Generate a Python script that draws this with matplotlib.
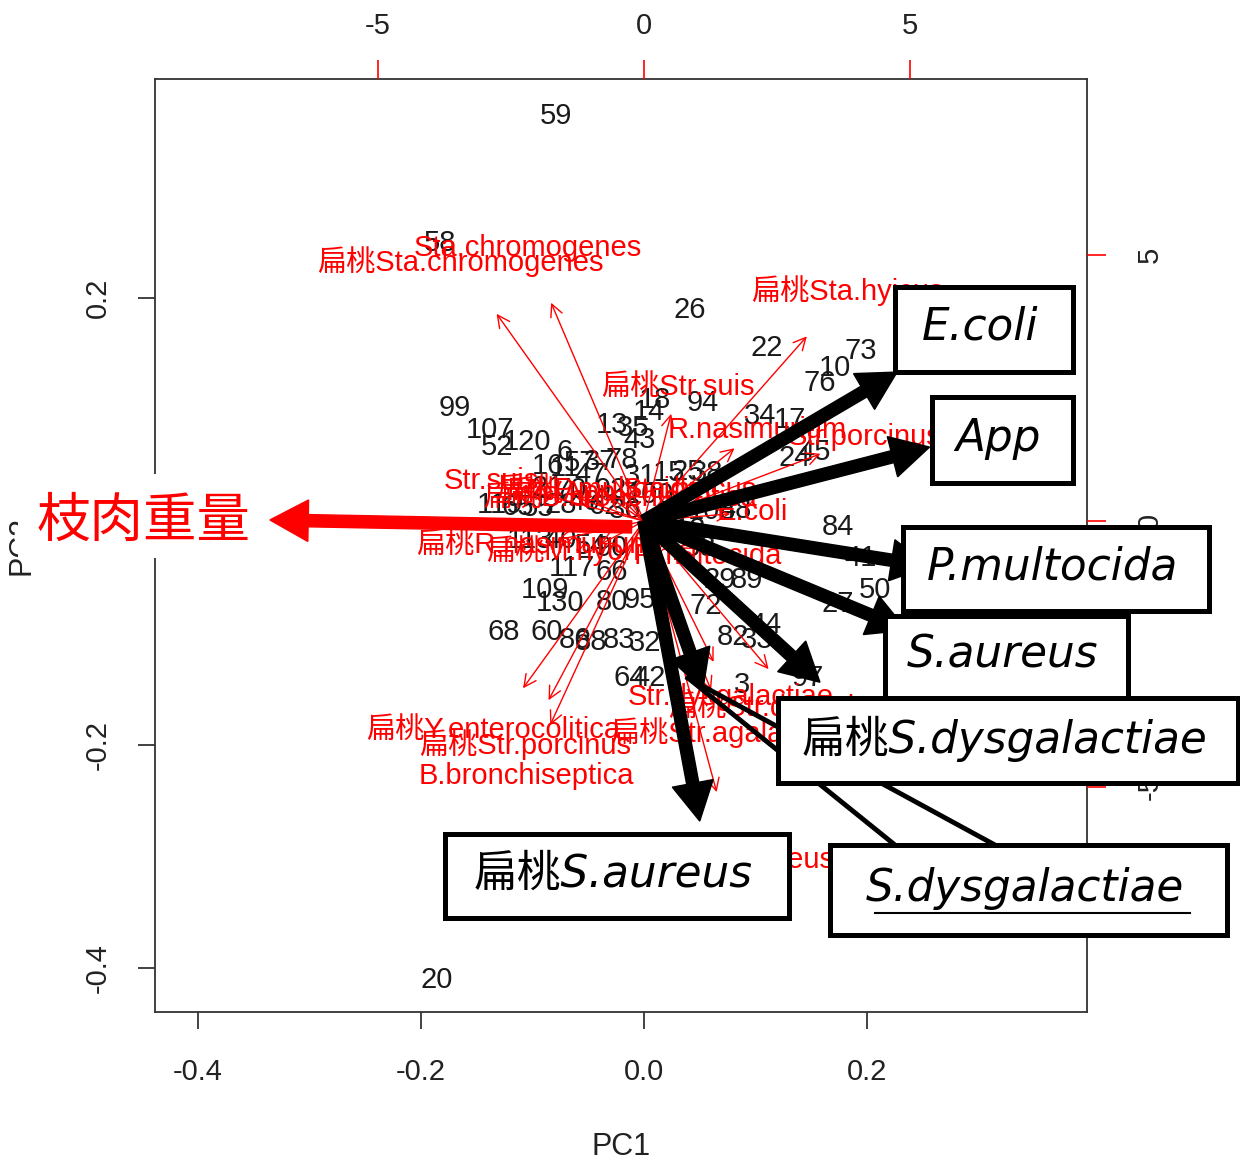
import matplotlib
matplotlib.use('Agg')
import matplotlib.pyplot as plt
from matplotlib.patches import Rectangle
from matplotlib.lines import Line2D

plt.rcParams['font.family'] = ['Liberation Sans', 'Noto Sans CJK JP']
plt.rcParams['axes.unicode_minus'] = False

# sample scores (PC1, PC2) -> bottom / left axes
pt_labels = ['59', '58', '26', '22', '73', '10', '76', '99', '94', '34', '17',
             '18', '14', '13', '35', '43', '107', '52', '120', '6',
             '16', '11', '57', '37', '78', '47', '31', '15', '25', '38',
             '21', '70', '92', '100', '119', '65', '55', '28', '49', '62', '36',
             '113', '40', '54', '90', '108', '48', '12', '53', '117', '66',
             '24', '45', '84', '41', '50', '27', '72', '29', '89', '82', '33',
             '44', '3', '97', '64', '42', '68', '60', '109', '130', '80', '95',
             '86', '88', '83', '32', '20']
pt_x = [-0.079, -0.183, 0.041, 0.110, 0.194, 0.171, 0.158, -0.170, 0.053, 0.104, 0.131,
        0.010, 0.004, -0.029, -0.010, -0.004, -0.138, -0.132, -0.105, -0.071,
        -0.086, -0.071, -0.057, -0.039, -0.020, -0.048, -0.004, 0.022, 0.039, 0.057,
        -0.086, -0.066, -0.030, 0.005, -0.129, -0.113, -0.095, -0.075, -0.053, -0.035, -0.017,
        -0.102, -0.075, -0.048, -0.029, 0.061, 0.082, 0.041, 0.050, -0.065, -0.029,
        0.135, 0.153, 0.174, 0.194, 0.207, 0.174, 0.055, 0.068, 0.092, 0.080, 0.101,
        0.109, 0.088, 0.147, -0.013, 0.005, -0.126, -0.087, -0.089, -0.075, -0.029, -0.004,
        -0.062, -0.048, -0.022, 0.001, -0.186]
pt_y = [0.363, 0.249, 0.189, 0.155, 0.153, 0.137, 0.124, 0.102, 0.106, 0.094, 0.091,
        0.109, 0.098, 0.086, 0.084, 0.073, 0.082, 0.067, 0.071, 0.062,
        0.050, 0.048, 0.052, 0.053, 0.055, 0.042, 0.041, 0.043, 0.044, 0.043,
        0.030, 0.028, 0.028, 0.024, 0.015, 0.013, 0.012, 0.015, 0.017, 0.014, 0.010,
        -0.017, -0.017, -0.022, -0.024, 0.009, 0.010, -0.008, -0.024, -0.042, -0.045,
        0.057, 0.062, -0.005, -0.033, -0.061, -0.074, -0.076, -0.052, -0.052, -0.103, -0.106,
        -0.093, -0.146, -0.140, -0.140, -0.140, -0.099, -0.099, -0.061, -0.073, -0.072, -0.070,
        -0.106, -0.108, -0.106, -0.109, -0.410]

# variable loadings -> top / right axes
var_labels = ['扁桃Sta.chromogenes', 'Sta.chromogenes', '扁桃Sta.hyicus', '扁桃Str.suis',
              'R.nasimurium', 'Str.porcinus', 'E.coli', 'P.multocida', 'Str.suis',
              'Str.dysgalactiae', '扁桃Str.dysgalactiae', '扁桃Str.agalactiae',
              '扁桃Y.enterocolitica', '扁桃Str.porcinus', 'B.bronchiseptica', '扁桃Sta.aureus',
              '扁桃App', '扁桃P.multocida', '扁桃B.bronchiseptica', '扁桃R.nasimurium',
              '扁桃M.hyorhinis', 'Sta.hyicus']
var_x = [-3.46, -2.18, 3.83, 0.64, 2.13, 4.15, 2.03, 1.20, -2.86, 1.64, 2.93, 1.58,
         -2.84, -2.24, -2.20, 1.71, -1.58, -0.83, -0.45, -2.05, -1.02, 0.87]
var_y = [4.87, 5.13, 4.34, 2.52, 1.71, 1.58, 0.17, -0.66, 0.75, -3.31, -3.48, -3.98,
         -3.93, -4.21, -4.79, -6.37, 0.55, 0.58, 0.45, -0.45, -0.55, 0.58]

# highlighted variables (thick black arrows)
hl_labels = ['E.coli', 'App', 'P.multocida', 'S.aureus', '扁桃S.dysgalactiae',
             'S.dysgalactiae', '扁桃S.aureus']
hl_x = [4.76, 5.37, 5.37, 4.94, 3.31, 1.11, 1.05]
hl_y = [2.80, 1.39, -0.85, -2.05, -3.03, -3.16, -5.64]
carcass_label = '枝肉重量'
carcass_x = -7.03
carcass_y = 0.02

W, H = 1240, 1159
fig = plt.figure(figsize=(W / 100, H / 100), dpi=100)

def fx(px):
    return px / W

def fy(py):
    return 1 - py / H

rect = [fx(155), fy(1012), (1087 - 155) / W, (1012 - 79) / H]
ax = fig.add_axes(rect)
ax.set_xlim(-0.4386, 0.3973)
ax.set_ylim(-0.439, 0.396)
for s in ax.spines.values():
    s.set_linewidth(1.3)
    s.set_color('#333333')
ax.set_xticks([-0.4, -0.2, 0.0, 0.2])
ax.set_xticklabels(['-0.4', '-0.2', '0.0', '0.2'])
ax.set_yticks([-0.4, -0.2, 0.0, 0.2])
ax.set_yticklabels(['-0.4', '-0.2', '0.0', '0.2'], rotation=90, va='center')
ax.tick_params(axis='x', length=12, width=1.2, pad=21, labelsize=21, colors='#222222')
ax.tick_params(axis='y', length=12, width=1.2, pad=19, labelsize=21, colors='#222222')
ax.set_xlabel('PC1', fontsize=22, color='#222222', labelpad=33)
ax.set_ylabel('PC2', fontsize=22, color='#222222', labelpad=34)

for lab, x, y in zip(pt_labels, pt_x, pt_y):
    ax.text(x, y, lab, fontsize=21, ha='center', va='center', color='#1a1a1a')

ax2 = fig.add_axes(rect, frameon=False)
ax2.set_xlim(-9.19, 8.33)
ax2.set_ylim(-9.23, 8.31)
ax2.xaxis.tick_top()
ax2.yaxis.tick_right()
ax2.set_xticks([-5, 0, 5])
ax2.set_yticks([-5, 0, 5])
ax2.set_yticklabels(['-5', '0', '5'], rotation=90, va='center')
ax2.tick_params(axis='both', length=14, width=1.2, color='red', labelcolor='#222222',
                labelsize=21)
ax2.tick_params(axis='x', pad=14)
ax2.tick_params(axis='y', pad=21)

for lab, x, y in zip(var_labels, var_x, var_y):
    ax2.annotate('', xy=(0.8 * x, 0.8 * y), xytext=(0, 0),
                 arrowprops=dict(arrowstyle='->', color='red', lw=1, shrinkA=0,
                                 shrinkB=0, mutation_scale=22))
    ax2.text(x, y, lab, fontsize=21, ha='center', va='center', color='red')

# thick overlay arrows
for x, y in zip(hl_x, hl_y):
    ax2.arrow(0, 0, x, y, width=0.23, head_width=0.78, head_length=0.72,
              length_includes_head=True, color='black', zorder=6, clip_on=False)
ax2.arrow(-0.23, -0.11, carcass_x + 0.23, carcass_y + 0.11, width=0.23,
          head_width=0.78, head_length=0.72, length_includes_head=True,
          color='red', zorder=6, clip_on=False)

# label for carcass weight
fig.add_artist(Rectangle((fx(18), fy(558)), (262 - 18) / W, (558 - 474) / H,
                         transform=fig.transFigure, facecolor='white',
                         edgecolor='none', zorder=2))
fig.text(fx(143), fy(521), carcass_label, fontsize=38.5, color='red', ha='center',
         va='center', family='Noto Sans CJK JP', zorder=3)

# callout lines for S.dysgalactiae
for bx in [895, 995]:
    fig.add_artist(Line2D([fx(688), fx(bx)], [fy(678), fy(845)],
                          transform=fig.transFigure, color='black', lw=3.5, zorder=1.5))

boxes = [(895, 287, 1073, 372), (932, 397, 1073, 483), (903, 527, 1209, 611),
         (885, 616, 1128, 698), (778, 698, 1238, 783), (830, 845, 1227, 935),
         (445, 834, 789, 918)]
for (x0, y0, x1, y1), lab in zip(boxes, hl_labels):
    fig.add_artist(Rectangle((fx(x0), fy(y1)), (x1 - x0) / W, (y1 - y0) / H,
                             transform=fig.transFigure, facecolor='white',
                             edgecolor='black', lw=3.6, zorder=2))
    fig.text(fx((x0 + x1) / 2 - 4), fy((y0 + y1) / 2 - 2), lab, fontsize=31.5,
             style='italic', family=['DejaVu Sans', 'Noto Sans CJK JP'],
             ha='center', va='center', color='black', zorder=3)
fig.add_artist(Line2D([fx(875), fx(1190)], [fy(913), fy(913)],
                      transform=fig.transFigure, color='black', lw=1.5, zorder=3))

fig.savefig('out.png', dpi=100)
